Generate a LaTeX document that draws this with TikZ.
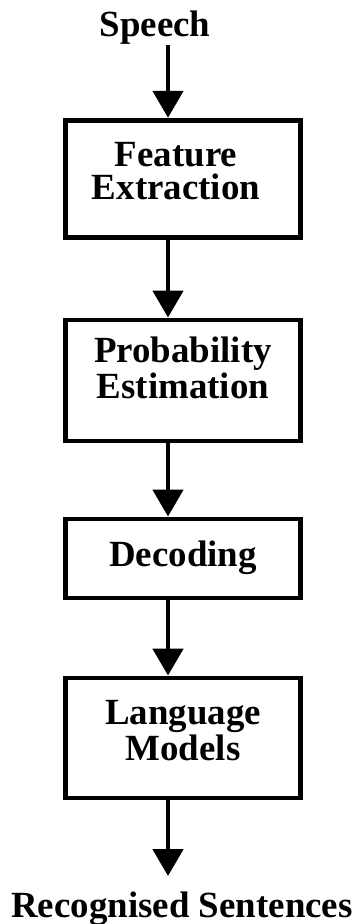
\documentclass[tikz,border=0pt]{standalone}
\usepackage{fontspec}
\setmainfont{Liberation Serif}
\usepackage{tikz}
\usetikzlibrary{positioning, arrows.meta}

\tikzset{
  stage/.style={rectangle, draw, line width=2.8pt, minimum width=4.7cm},
  caption/.style={inner sep=0pt, align=center, font=\bfseries\fontsize{21}{19}\selectfont},
  flow/.style={line width=2.8pt, -{Triangle[width=0.6cm, length=0.54cm]}}
}

\begin{document}
\begin{tikzpicture}
  \useasboundingbox (0,0) rectangle (7.14,-18.48);
  \coordinate (col) at (3.36,0);

  \node[caption, anchor=base] (speech) at (3.1, -0.74) {Speech};

  \node[stage, minimum height=2.35cm] (fe) at (3.66, -3.58) {};
  \node[caption, anchor=north] (fetext) at (3.52, -2.84) {Feature\\Extraction};

  \node[stage, minimum height=2.42cm] (pe) at (3.66, -7.61) {};
  \node[caption, anchor=north] (petext) at (3.66, -6.74) {Probability\\Estimation};

  \node[stage, minimum height=1.58cm] (dec) at (3.66, -11.17) {};
  \node[caption, anchor=north] (dectext) at (3.66, -10.82) {Decoding};

  \node[stage, minimum height=2.4cm] (lm) at (3.66, -14.76) {};
  \node[caption, anchor=north] (lmtext) at (3.66, -14.0) {Language\\Models};

  \node[caption, anchor=base] (rs) at (3.64, -18.34) {Recognised Sentences};

  \draw[flow] (col |- speech.south) -- (col |- fe.north);
  \draw[flow] (col |- fe.south) -- (col |- pe.north);
  \draw[flow] (col |- pe.south) -- (col |- dec.north);
  \draw[flow] (col |- dec.south) -- (col |- lm.north);
  \draw[flow, shorten >=0.3cm] (col |- lm.south) -- (col |- rs.north);
\end{tikzpicture}
\end{document}
